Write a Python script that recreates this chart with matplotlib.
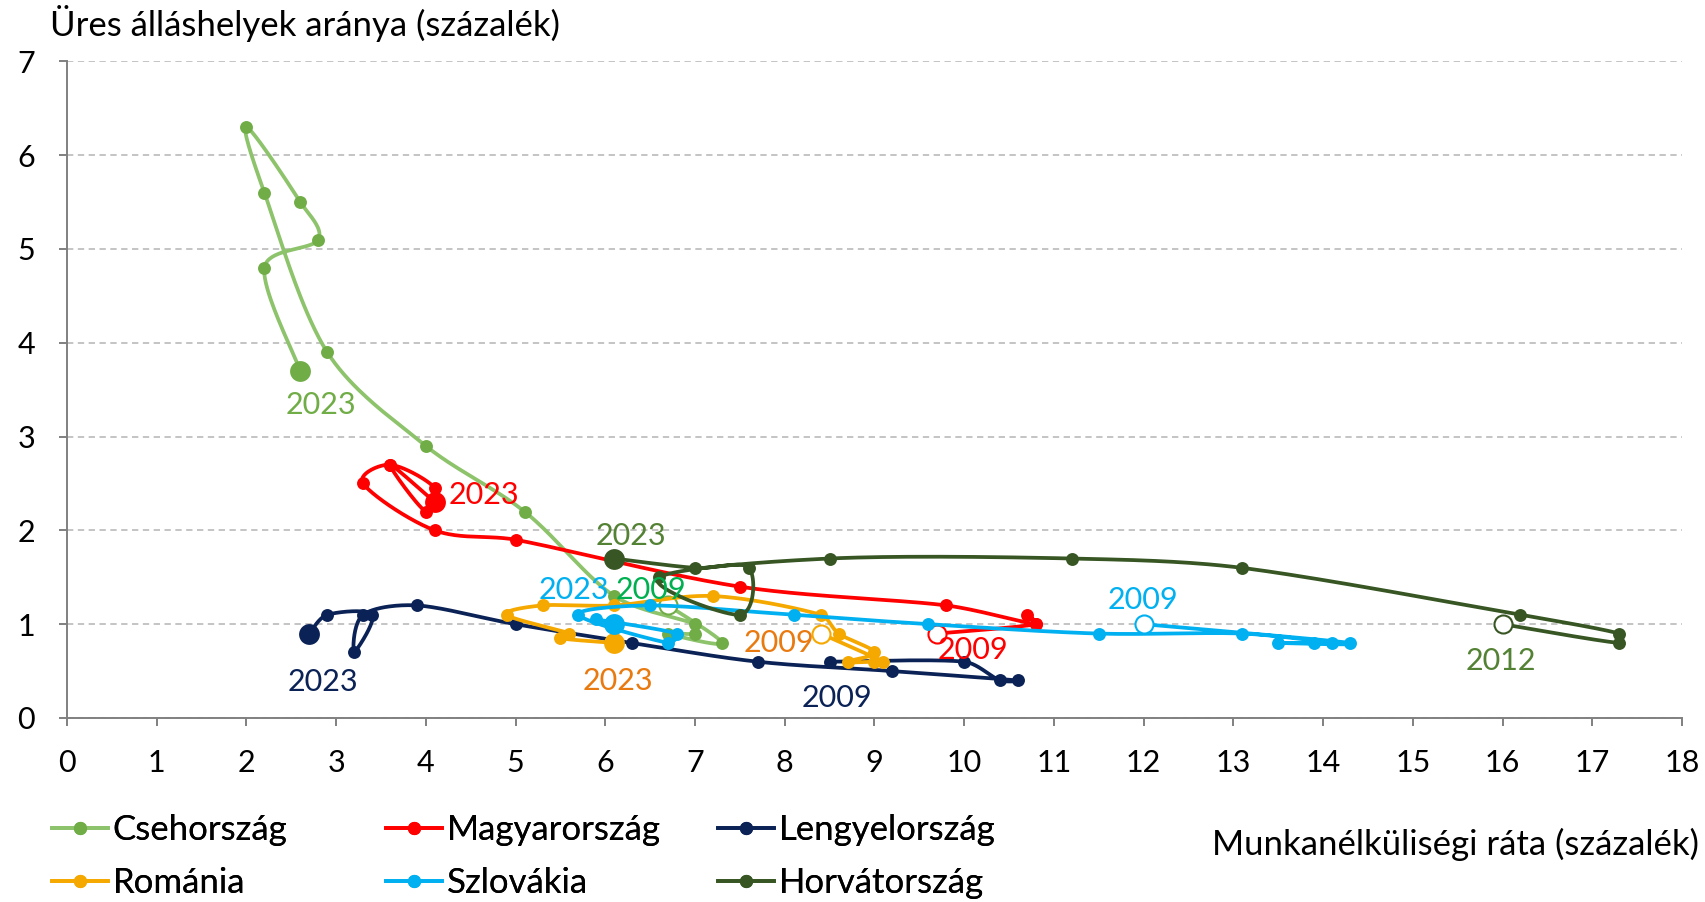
import numpy as np
import matplotlib
matplotlib.use("Agg")
import matplotlib.pyplot as plt
from matplotlib.lines import Line2D

plt.rcParams['font.family'] = ['Lato', 'DejaVu Sans']

# munkanélküliségi ráta (x) és üres álláshelyek aránya (y), időrendben
cz_x = [6.7, 7.3, 6.7, 7.0, 7.0, 6.1, 5.1, 4.0, 2.9, 2.2, 2.0, 2.6, 2.8, 2.2, 2.6]
cz_y = [1.2, 0.8, 0.9, 0.9, 1.0, 1.3, 2.2, 2.9, 3.9, 5.6, 6.3, 5.5, 5.1, 4.8, 3.7]

hu_x = [9.7, 10.8, 10.7, 10.8, 9.8, 7.5, 5.0, 4.1, 3.3, 3.6, 4.1, 4.0, 3.6, 4.1]
hu_y = [0.9, 1.0, 1.1, 1.0, 1.2, 1.4, 1.9, 2.0, 2.5, 2.7, 2.45, 2.2, 2.7, 2.3]

pl_x = [8.5, 10.0, 10.4, 10.6, 9.2, 7.7, 6.3, 5.0, 3.9, 3.3, 3.2, 3.4, 2.9, 2.7]
pl_y = [0.6, 0.6, 0.4, 0.4, 0.5, 0.6, 0.8, 1.0, 1.2, 1.1, 0.7, 1.1, 1.1, 0.9]

ro_x = [8.4, 9.1, 9.0, 8.7, 9.0, 8.6, 8.4, 7.2, 6.1, 5.3, 4.9, 5.6, 5.5, 6.1]
ro_y = [0.9, 0.6, 0.6, 0.6, 0.7, 0.9, 1.1, 1.3, 1.2, 1.2, 1.1, 0.9, 0.85, 0.8]

sk_x = [12.0, 14.3, 13.5, 13.9, 14.1, 13.1, 11.5, 9.6, 8.1, 6.5, 5.7, 6.7, 6.8, 5.9, 6.1]
sk_y = [1.0, 0.8, 0.8, 0.8, 0.8, 0.9, 0.9, 1.0, 1.1, 1.2, 1.1, 0.8, 0.9, 1.05, 1.0]

hr_x = [16.0, 17.3, 17.3, 16.2, 13.1, 11.2, 8.5, 6.6, 7.5, 7.6, 7.0, 6.1]
hr_y = [1.0, 0.8, 0.9, 1.1, 1.6, 1.7, 1.7, 1.5, 1.1, 1.6, 1.6, 1.7]

countries = ['Csehország', 'Magyarország', 'Lengyelország',
             'Románia', 'Szlovákia', 'Horvátország']
start_years = ['2009', '2009', '2009', '2009', '2009', '2012']
end_years = ['2023'] * 6

# képpont / egység a két tengelyen (a simítás képernyőtérben történik)
SX, SY = 89.7, 93.8


def smooth(xs, ys, n=40):
    # simított vonal: Catmull-Rom érintők, rövid szakaszoknál visszafogva
    pts = np.column_stack([np.asarray(xs) * SX, np.asarray(ys) * SY]).astype(float)
    t = np.linspace(0, 1, n)[:, None]
    out = []

    def handle(d, L):
        n_ = np.hypot(*d)
        if n_ == 0:
            return np.zeros(2)
        ln = min(n_ / 6, L / 3)
        return d / n_ * ln

    for i in range(len(pts) - 1):
        p0 = pts[i - 1] if i > 0 else pts[i]
        p1, p2 = pts[i], pts[i + 1]
        p3 = pts[i + 2] if i + 2 < len(pts) else pts[i + 1]
        L = np.hypot(*(p2 - p1))
        c1 = p1 + handle(p2 - p0, L)
        c2 = p2 - handle(p3 - p1, L)
        seg = (1 - t) ** 3 * p1 + 3 * (1 - t) ** 2 * t * c1 + 3 * (1 - t) * t ** 2 * c2 + t ** 3 * p2
        out.append(seg if i == 0 else seg[1:])
    res = np.vstack(out)
    return res[:, 0] / SX, res[:, 1] / SY


series = [
    # x, y, vonalszín, jelölőszín, kezdő címke színe, záró címke színe, üres kezdőpont,
    # kezdő címke eltolás (px), záró címke eltolás (px), záró címke igazítás
    (cz_x, cz_y, '#8DC36B', '#70AD47', '#00B050', '#70AD47', True, (-17, 15), (21, -34), 'center'),
    (hu_x, hu_y, '#FF0000', '#FF0000', '#FF0000', '#FF0000', True, (36, -16), (14, 7), 'left'),
    (pl_x, pl_y, '#0B2256', '#0B2256', '#0B2256', '#0B2256', False, (7, -36), (14, -48), 'center'),
    (ro_x, ro_y, '#F5A800', '#F5A800', '#E97A10', '#E97A10', True, (-42, -9), (4, -38), 'center'),
    (sk_x, sk_y, '#00B0F0', '#00B0F0', '#00B0F0', '#00B0F0', True, (-1, 24), (-40, 34), 'center'),
    (hr_x, hr_y, '#375623', '#375623', '#548235', '#548235', True, (-2, -37), (17, 23), 'center'),
]

fig = plt.figure(figsize=(17.05, 9.02), dpi=100)
ax = fig.add_axes([0.0393, 0.204, 0.9472, 0.728])

FS = 25      # szöveges feliratok
FN = 22      # számok, évszámok
LW = 2.7     # vonalvastagság

handles = []
for k, (xs, ys, lc, mc, sc, ec, hollow, soff, eoff, eha) in enumerate(series):
    z = 3 + k
    cx, cy = smooth(xs, ys)
    ax.plot(cx, cy, color=lc, lw=LW, zorder=z, solid_capstyle='round')
    ax.plot(xs[1:-1], ys[1:-1], 'o', color=mc, ms=9.3, mew=0, zorder=z)
    ax.plot(xs[-1], ys[-1], 'o', color=mc, ms=15, mew=0, zorder=z)
    if hollow:
        ax.plot(xs[0], ys[0], 'o', mfc='white', mec=mc, ms=13, mew=1.5, zorder=z)
    else:
        ax.plot(xs[0], ys[0], 'o', color=mc, ms=9.3, mew=0, zorder=z)
    ax.annotate(start_years[k], (xs[0], ys[0]), xytext=soff, textcoords='offset pixels',
                ha='center', va='center', color=sc, fontsize=FN, zorder=20)
    ax.annotate(end_years[k], (xs[-1], ys[-1]), xytext=eoff, textcoords='offset pixels',
                ha=eha, va='center', color=ec, fontsize=FN, zorder=20)
    handles.append(Line2D([], [], color=lc, lw=LW, marker='o', ms=8.5, mfc=mc, mec=mc))

ax.set_xlim(0, 18)
ax.set_ylim(0, 7)
ax.set_xticks(range(0, 19))
ax.set_yticks(range(0, 8))
ax.grid(axis='y', color='#BFBFBF', lw=1.3, ls=(0, (3.5, 2.5)))
ax.set_axisbelow(True)
for s in ['top', 'right']:
    ax.spines[s].set_visible(False)
for s in ['left', 'bottom']:
    ax.spines[s].set_color('#808080')
    ax.spines[s].set_linewidth(1.4)
ax.tick_params(axis='x', direction='out', length=6, width=1.4, color='#808080',
               labelsize=FN, pad=16)
ax.tick_params(axis='y', direction='out', length=6, width=1.4, color='#808080',
               labelsize=FN, pad=17)

fig.text(50 / 1705, 1 - 24 / 902, 'Üres álláshelyek aránya (százalék)',
         fontsize=FS, ha='left', va='center')
fig.text(1699 / 1705, 1 - 844 / 902, 'Munkanélküliségi ráta (százalék)',
         fontsize=FS, ha='right', va='center')

# jelmagyarázat három oszlopban
col_x = [52 / 1705, 386 / 1705, 718 / 1705]
for c in range(3):
    idx = [c, c + 3]
    leg = fig.legend([handles[i] for i in idx], [countries[i] for i in idx],
                     loc='center left', bbox_to_anchor=(col_x[c], 0.0504),
                     frameon=False, fontsize=FS, borderpad=0, borderaxespad=0,
                     handlelength=1.6, handletextpad=0.15, labelspacing=0.62,
                     numpoints=1)
    fig.add_artist(leg)

fig.savefig('out.png', dpi=100)
